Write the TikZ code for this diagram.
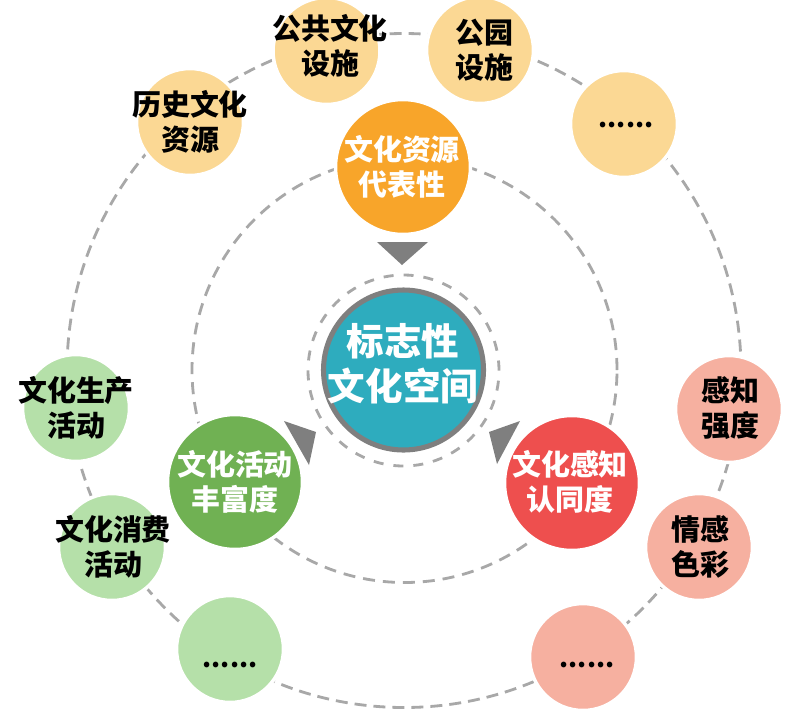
\documentclass[tikz,border=0pt]{standalone}
\usepackage{fontspec}
\setmainfont{Noto Sans CJK SC}
\definecolor{ringgray}{HTML}{A8A8A8}
\definecolor{arrowgray}{HTML}{7F7F7F}
\definecolor{coreteal}{HTML}{2EACBE}
\definecolor{mainorange}{HTML}{F8A52A}
\definecolor{maingreen}{HTML}{70B153}
\definecolor{mainred}{HTML}{EE4F4E}
\definecolor{paleorange}{HTML}{FBD894}
\definecolor{palegreen}{HTML}{B5E0A9}
\definecolor{palered}{HTML}{F6B0A0}
\begin{document}
\begin{tikzpicture}[
  ring node/.style={circle,draw=ringgray,line width=2pt,inner sep=0.,outer sep=0.},
  main node/.style={circle,draw=white,line width=2.5pt,minimum size=135*0.025cm,inner sep=0.,outer sep=0.},
  side node/.style={circle,draw=white,line width=2.5pt,minimum size=107*0.025cm,inner sep=0.,outer sep=0.},
  main text/.style={align=center,text=white,font=\fontsize{20.6}{24.9}\selectfont\bfseries},
  side text/.style={align=center,text=black,font=\fontsize{20.6}{24.9}\selectfont\bfseries},
  dots text/.style={text=black,font=\fontsize{18.5}{22}\selectfont\bfseries},
  pointer/.style={fill=arrowgray,draw=none}]%
  \pgfmathsetmacro{\xscale}{0.025}
  \pgfmathsetmacro{\yscale}{-0.025}
  \useasboundingbox (0., 0.) rectangle (805. * \xscale, 709. * \yscale);
  % rings
  \node[ring node,dash pattern=on 12*0.711pt off 7*0.711pt,minimum size=674*0.025cm] (outerring) at (404. * \xscale, 370.5 * \yscale) {};
  \node[ring node,dash pattern=on 12*0.711pt off 8*0.711pt,minimum size=425*0.025cm] (innerring) at (404.5 * \xscale, 370. * \yscale) {};
  \node[ring node,dash pattern=on 10*0.711pt off 10*0.711pt,minimum size=191*0.025cm] (corering) at (403.5 * \xscale, 370.5 * \yscale) {};
  % centre
  \node[circle,draw=arrowgray,fill=coreteal,line width=3.6pt,minimum size=160*0.025cm,inner sep=0.] (core) at (403.5 * \xscale, 370. * \yscale) {};
  \node[align=center,text=white,font=\fontsize{26.7}{32}\selectfont\bfseries] (coretext) at (403. * \xscale, 364. * \yscale) {标志性\\文化空间};
  % pointers
  \fill[pointer] (377. * \xscale, 242. * \yscale) -- (428. * \xscale, 242. * \yscale) -- (402. * \xscale, 265. * \yscale) -- cycle;
  \fill[pointer] (284. * \xscale, 421. * \yscale) -- (316. * \xscale, 432. * \yscale) -- (309. * \xscale, 465. * \yscale) -- cycle;
  \fill[pointer] (520. * \xscale, 421. * \yscale) -- (489. * \xscale, 432. * \yscale) -- (497. * \xscale, 464. * \yscale) -- cycle;
  % main circles
  \node[main node,fill=mainorange] (resource) at (403. * \xscale, 167. * \yscale) {};
  \node[main node,fill=maingreen] (activity) at (235. * \xscale, 482. * \yscale) {};
  \node[main node,fill=mainred] (perception) at (572. * \xscale, 483. * \yscale) {};
  \node[main text] (resourcetext) at (402. * \xscale, 167. * \yscale) {文化资源\\代表性};
  \node[main text] (activitytext) at (235. * \xscale, 482. * \yscale) {文化活动\\丰富度};
  \node[main text] (perceptiontext) at (570. * \xscale, 482. * \yscale) {文化感知\\认同度};
  % side circles
  \node[side node,fill=paleorange] (history) at (190. * \xscale, 122. * \yscale) {};
  \node[side node,fill=paleorange] (facility) at (326.5 * \xscale, 51. * \yscale) {};
  \node[side node,fill=paleorange] (park) at (480. * \xscale, 50. * \yscale) {};
  \node[side node,fill=paleorange] (orangemore) at (624. * \xscale, 124. * \yscale) {};
  \node[side node,fill=palered] (strength) at (729. * \xscale, 409. * \yscale) {};
  \node[side node,fill=palered] (emotion) at (699. * \xscale, 547. * \yscale) {};
  \node[side node,fill=palered] (redmore) at (583. * \xscale, 657. * \yscale) {};
  \node[side node,fill=palegreen] (greenmore) at (230. * \xscale, 649. * \yscale) {};
  \node[side node,fill=palegreen] (consume) at (112. * \xscale, 547. * \yscale) {};
  \node[side node,fill=palegreen] (produce) at (76. * \xscale, 408. * \yscale) {};
  \node[side text] (historytext) at (190. * \xscale, 122. * \yscale) {历史文化\\资源};
  \node[side text] (facilitytext) at (330. * \xscale, 46. * \yscale) {公共文化\\设施};
  \node[side text] (parktext) at (484. * \xscale, 50. * \yscale) {公园\\设施};
  \node[dots text] (orangedots) at (626. * \xscale, 125. * \yscale) {......};
  \node[side text] (strengthtext) at (730. * \xscale, 408. * \yscale) {感知\\强度};
  \node[side text] (emotiontext) at (700. * \xscale, 547. * \yscale) {情感\\色彩};
  \node[dots text] (reddots) at (587. * \xscale, 665. * \yscale) {......};
  \node[dots text] (greendots) at (230. * \xscale, 665. * \yscale) {......};
  \node[side text] (consumetext) at (113. * \xscale, 547. * \yscale) {文化消费\\活动};
  \node[side text] (producetext) at (76. * \xscale, 408. * \yscale) {文化生产\\活动};
\end{tikzpicture}
\end{document}
